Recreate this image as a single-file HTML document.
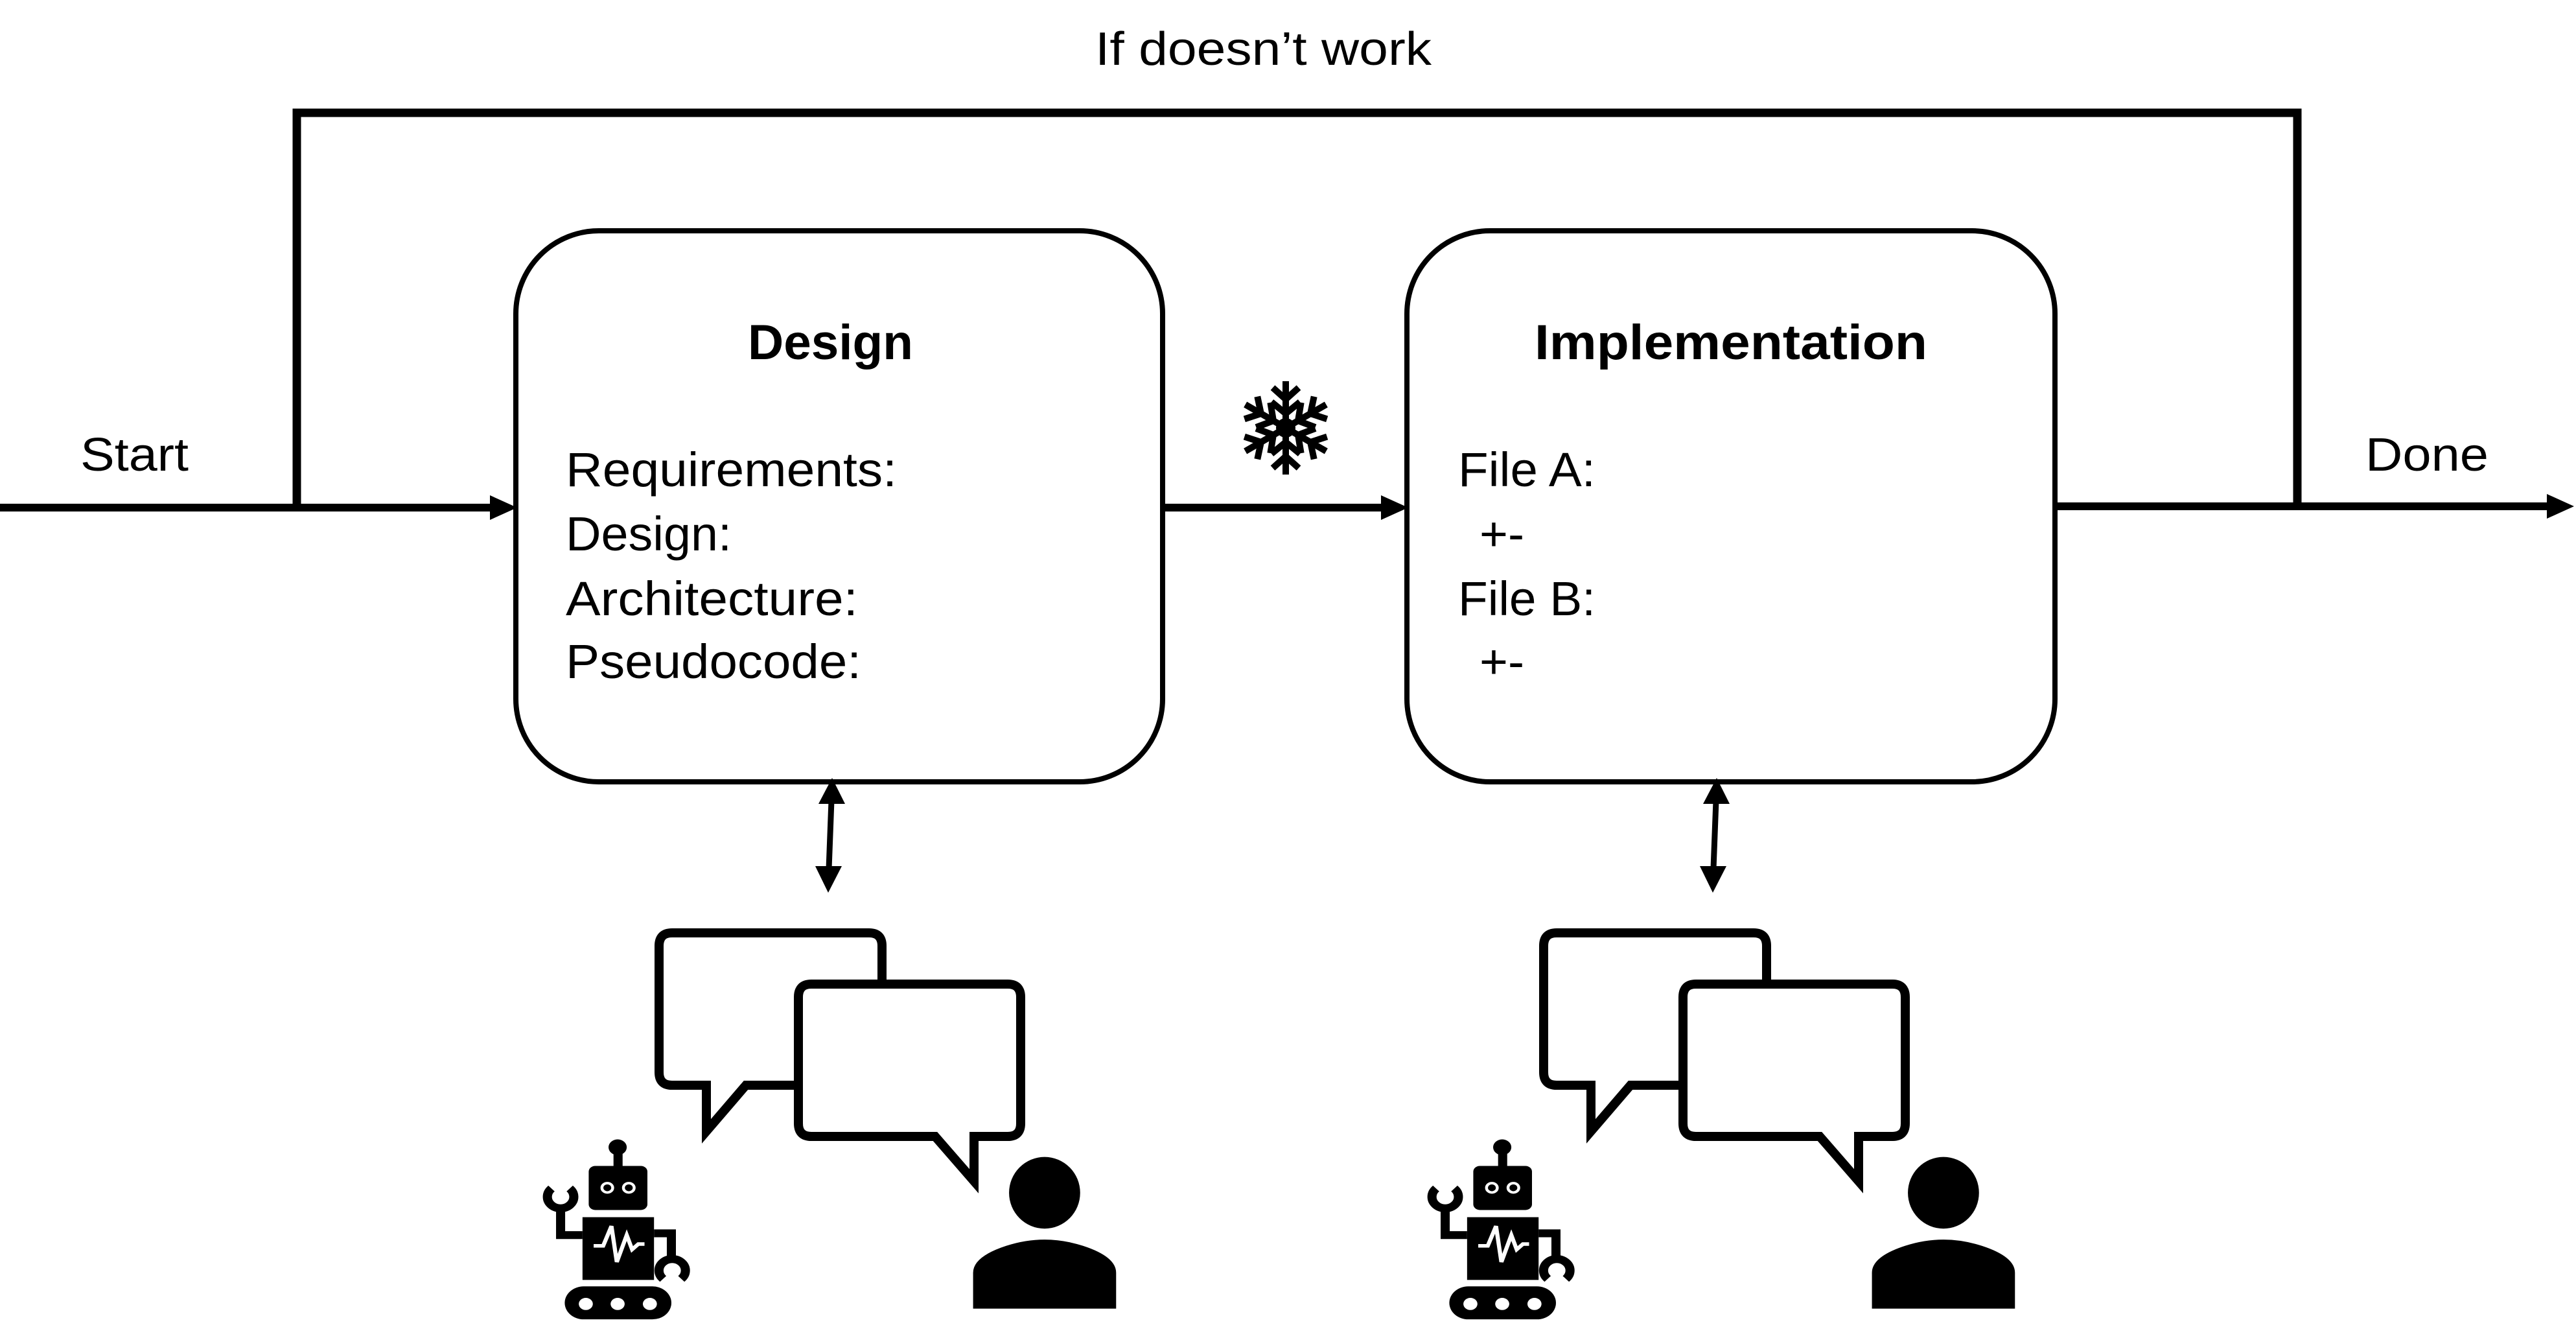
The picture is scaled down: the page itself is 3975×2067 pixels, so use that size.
<!DOCTYPE html>
<html><head><meta charset="utf-8"><style>
html,body{margin:0;padding:0;background:#fff;}
svg{display:block;}
text{font-family:"Liberation Sans",sans-serif;fill:#000;}
</style></head><body>
<svg width="3975" height="2067" viewBox="0 0 3975 2067" xmlns="http://www.w3.org/2000/svg">
<rect width="3975" height="2067" fill="#fff"/>
<polyline points="458,783 458,174 3545,174 3545,783" fill="none" stroke="#000" stroke-width="13"/>
<line x1="0" y1="783" x2="760" y2="783" stroke="#000" stroke-width="12"/>
<polygon points="798,783 756,764 756,802" fill="#000"/>
<line x1="1794" y1="783" x2="2135" y2="783" stroke="#000" stroke-width="12"/>
<polygon points="2173,783 2131,764 2131,802" fill="#000"/>
<line x1="3171" y1="781" x2="3935" y2="781" stroke="#000" stroke-width="12"/>
<polygon points="3972,781 3930,762 3930,800" fill="#000"/>
<rect x="796" y="356" width="998" height="850" rx="128" ry="128" fill="#fff" stroke="#000" stroke-width="8"/>
<rect x="2171" y="356" width="1000" height="850" rx="128" ry="128" fill="#fff" stroke="#000" stroke-width="8"/>
<text x="1690" y="100" font-size="72" textLength="519" lengthAdjust="spacingAndGlyphs">If doesn’t work</text>
<text x="124" y="726" font-size="72" textLength="167" lengthAdjust="spacingAndGlyphs">Start</text>
<text x="3650" y="726" font-size="72" textLength="190" lengthAdjust="spacingAndGlyphs">Done</text>
<text x="1154" y="554" font-size="76" font-weight="bold" textLength="255" lengthAdjust="spacingAndGlyphs">Design</text>
<text x="2368" y="554" font-size="76" font-weight="bold" textLength="606" lengthAdjust="spacingAndGlyphs">Implementation</text>
<text x="873" y="750" font-size="74" textLength="511" lengthAdjust="spacingAndGlyphs">Requirements:</text>
<text x="873" y="849" font-size="74" textLength="256" lengthAdjust="spacingAndGlyphs">Design:</text>
<text x="873" y="949" font-size="74" textLength="451" lengthAdjust="spacingAndGlyphs">Architecture:</text>
<text x="873" y="1046" font-size="74" textLength="456" lengthAdjust="spacingAndGlyphs">Pseudocode:</text>
<text x="2250" y="750" font-size="74" textLength="212" lengthAdjust="spacingAndGlyphs">File A:</text>
<text x="2283" y="849" font-size="74" textLength="69" lengthAdjust="spacingAndGlyphs">+-</text>
<text x="2250" y="949" font-size="74" textLength="212" lengthAdjust="spacingAndGlyphs">File B:</text>
<text x="2283" y="1046" font-size="74" textLength="69" lengthAdjust="spacingAndGlyphs">+-</text>
<g transform="translate(1984,660)" stroke="#000" stroke-width="10" fill="none">
  <g id="arm"><line x1="0" y1="0" x2="0" y2="-72"/><polyline points="-20,-62 0,-44 20,-62"/><polyline points="-22,-40 0,-22 22,-40"/></g>
  <use href="#arm" transform="rotate(60)"/><use href="#arm" transform="rotate(120)"/>
  <use href="#arm" transform="rotate(180)"/><use href="#arm" transform="rotate(240)"/><use href="#arm" transform="rotate(300)"/>
  <circle r="15" fill="#000" stroke="none"/>
</g>
<g id="grp">
  <line x1="1283" y1="1235" x2="1279" y2="1340" stroke="#000" stroke-width="9"/>
  <polygon points="1284,1200 1263,1240 1304,1240" fill="#000"/>
  <polygon points="1278,1377 1258,1336 1299,1336" fill="#000"/>
  <path d="M1037,1439 H1341 Q1361,1439 1361,1459 V1654 Q1361,1674 1341,1674 H1151 L1090,1745 V1674 H1037 Q1017,1674 1017,1654 V1459 Q1017,1439 1037,1439 Z" fill="#fff" stroke="#000" stroke-width="14"/>
  <path d="M1252,1518 H1555 Q1575,1518 1575,1538 V1733 Q1575,1753 1555,1753 H1503 V1822 L1443,1753 H1252 Q1232,1753 1232,1733 V1538 Q1232,1518 1252,1518 Z" fill="#fff" stroke="#000" stroke-width="14"/>
  <g transform="translate(800,1200) scale(0.6378,0.5531)">
    <circle cx="240" cy="1030" r="22" fill="#000"/>
    <rect x="230" y="1045" width="22" height="42" fill="#000"/>
    <rect x="170" y="1082" width="142" height="123" rx="16" fill="#000"/>
    <circle cx="215" cy="1143" r="13" fill="none" stroke="#fff" stroke-width="7"/>
    <circle cx="267" cy="1143" r="13" fill="none" stroke="#fff" stroke-width="7"/>
    <rect x="155" y="1225" width="173" height="175" fill="#000"/>
    <polyline points="182,1305 205,1305 225,1250 238,1350 262,1275 275,1315 290,1300 305,1300" fill="none" stroke="#fff" stroke-width="10"/>
    <polyline points="155,1275 102,1275 102,1195" fill="none" stroke="#000" stroke-width="22"/>
    <path d="M80,1145 A32,32 0 1 0 124,1145" fill="none" stroke="#000" stroke-width="22"/>
    <polyline points="328,1270 370,1270 370,1345" fill="none" stroke="#000" stroke-width="22"/>
    <path d="M350,1397 A32,32 0 1 1 394,1397" fill="none" stroke="#000" stroke-width="22"/>
    <rect x="112" y="1418" width="258" height="92" rx="46" fill="#000"/>
    <circle cx="163" cy="1467" r="17" fill="#fff"/>
    <circle cx="240" cy="1467" r="17" fill="#fff"/>
    <circle cx="318" cy="1467" r="17" fill="#fff"/>
  </g>
</g>
<g id="person" transform="translate(800,1200) scale(0.6378,0.5531)">
  <ellipse cx="1273" cy="1157" rx="86" ry="100" fill="#000"/>
  <path d="M1100,1480 L1100,1380 Q1100,1335 1180,1305 Q1273,1270 1366,1305 Q1446,1335 1446,1380 L1446,1480 Z" fill="#000"/>
</g>
<use href="#grp" transform="translate(1365,0)"/>
<use href="#person" transform="translate(1387,0)"/>
</svg>
</body></html>
